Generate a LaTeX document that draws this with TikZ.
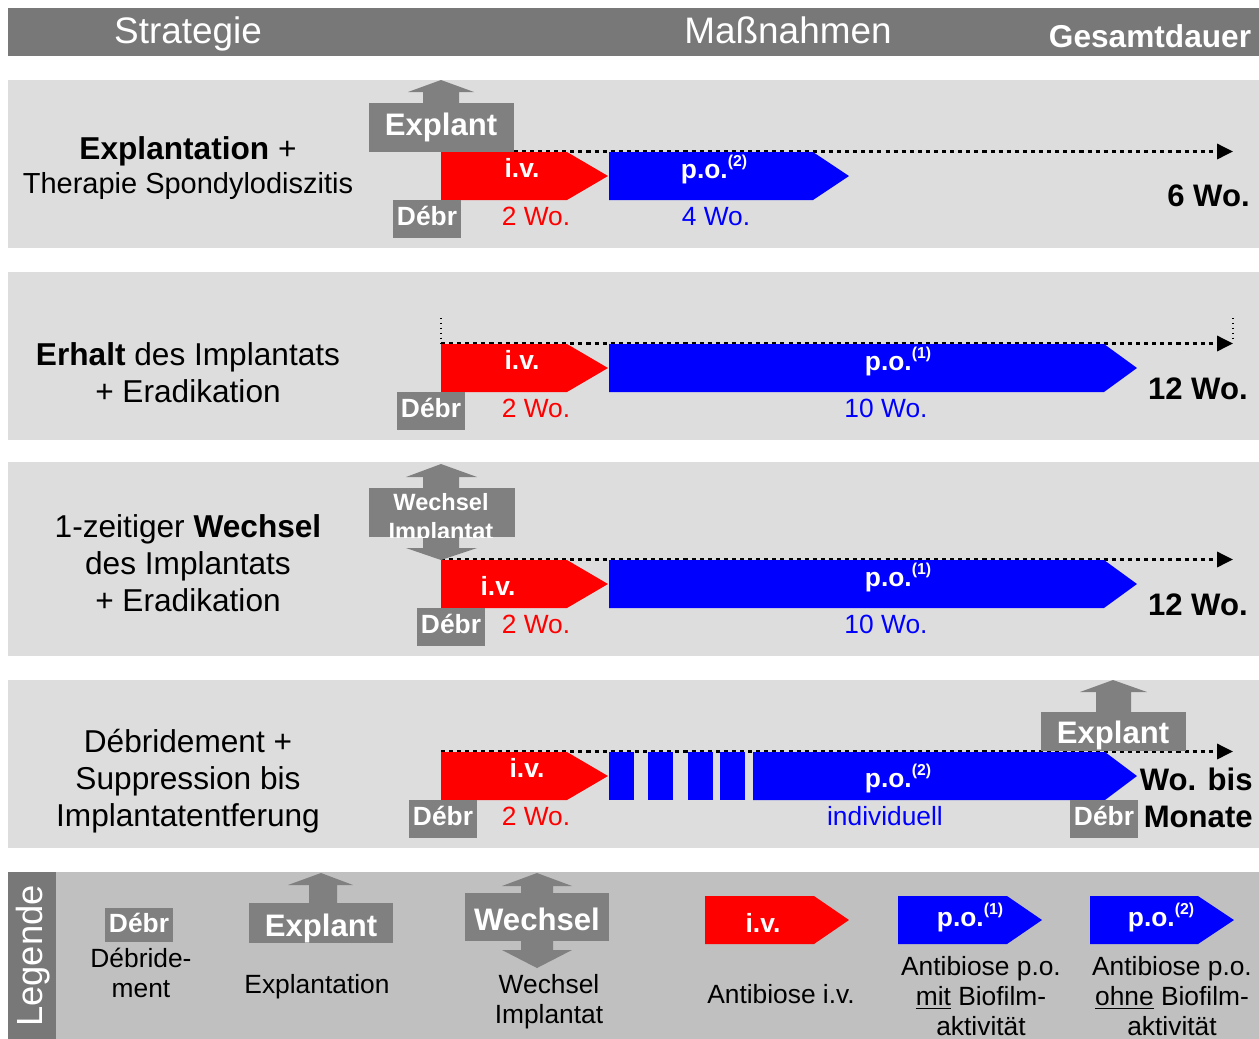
\documentclass[tikz,border=0pt]{standalone}
\usepackage{fontspec}
\setmainfont{Liberation Sans}
\usetikzlibrary{arrows.meta}

\definecolor{kopfgrau}{RGB}{120,120,120}
\definecolor{boxgrau}{RGB}{128,128,128}
\definecolor{feldgrau}{RGB}{221,221,221}
\definecolor{leggrau}{RGB}{192,192,192}
\definecolor{ivrot}{RGB}{255,0,0}
\definecolor{poblau}{RGB}{0,0,255}

\newcommand{\hoch}[1]{\raisebox{6.5pt}{\fontsize{9}{9}\selectfont(#1)}}

\tikzset{
  kopf/.style={anchor=base, inner sep=0pt, text=white, font=\fontsize{21}{25}\selectfont},
  strat/.style={align=center, inner sep=0pt, font=\fontsize{18}{21}\selectfont},
  wochen/.style={anchor=base, inner sep=0pt, font=\fontsize{15}{18}\selectfont},
  gesamt/.style={anchor=base east, inner sep=0pt, font=\bfseries\fontsize{17.7}{21}\selectfont},
  balken/.style={anchor=base, inner sep=0pt, text=white, font=\bfseries\fontsize{15}{18}\selectfont},
  gross/.style={anchor=base, inner sep=0pt, text=white, font=\bfseries\fontsize{17.7}{21}\selectfont},
  legtext/.style={align=center, inner sep=0pt, font=\fontsize{15}{17}\selectfont},
  zeitachse/.style={line width=1.8pt, dash pattern=on 2.3pt off 2.3pt, -{Triangle[length=9pt,width=8.5pt]}},
}

\begin{document}
\begin{tikzpicture}[x=0.02cm, y=-0.02cm]
  \useasboundingbox (0,0) rectangle (1259,1039);
  % Kopfzeile
  \fill[kopfgrau] (8,8) rectangle (1259,56);
  \node[kopf] (strategie) at (188,43) {Strategie};
  \node[kopf] (massnahmen) at (788,43) {Maßnahmen};
  \node[kopf, font=\bfseries\fontsize{18}{21}\selectfont] (gesamtdauer) at (1150,47) {Gesamtdauer};

  % Felder
  \foreach \a/\b in {80/248, 272/440, 462/656, 680/848}
    \fill[feldgrau] (8,\a) rectangle (1259,\b);
  \fill[leggrau] (8,872) rectangle (1259,1039);
  \fill[kopfgrau] (8,872) rectangle (56,1039);

  % Zeitachsen und i.v.-Pfeile
  \foreach \T/\n in {152/1, 344/2, 560/3, 752/4} {
    \coordinate (start\n) at (441,\T-0.5);
    \coordinate (ende\n) at (1233,\T-0.5);
    \draw[zeitachse] (start\n) -- (ende\n);
    \fill[ivrot] (441,\T) -- (567,\T) -- (608,\T+24) -- (567,\T+48) -- (441,\T+48) -- cycle;
    \node[wochen, text=ivrot] (zwei\n) at (536,\T+73) {2 Wo.};
  }
  % p.o.-Pfeile
  \fill[poblau] (609,152) -- (813,152) -- (849,176) -- (813,200) -- (609,200) -- cycle;
  \fill[poblau] (609,344) -- (1104,344) -- (1137,368) -- (1104,392) -- (609,392) -- cycle;
  \fill[poblau] (609,560) -- (1104,560) -- (1137,584) -- (1104,608) -- (609,608) -- cycle;
  \foreach \a/\b in {609/634, 648/673, 688/713, 720/745}
    \fill[poblau] (\a,752) rectangle (\b,800);
  \fill[poblau] (753,752) -- (1105,752) -- (1137,776) -- (1105,800) -- (753,800) -- cycle;

  % Zeile 1
  \node[strat] (lab1) at (188,168) {\textbf{Explantation} +\\[-1.5pt]{\fontsize{16.5}{19}\selectfont Therapie Spondylodiszitis}};
  \fill[boxgrau] (369,103) rectangle (514,152);
  \fill[boxgrau] (423,104) -- (423,92) -- (408,92) -- (441,80) -- (474,92) -- (459,92) -- (459,104) -- cycle;
  \node[gross] (explant1) at (441,135) {Explant};
  \fill[boxgrau] (393,200) rectangle (461,238);
  \node[balken] (debr1) at (427,225) {Débr};
  \node[balken] (iv1) at (522,177) {i.v.};
  \node[balken] (po1) at (714,178) {p.o.\hoch{2}};
  \node[wochen, text=poblau] (vier1) at (716,225) {4 Wo.};
  \node[gesamt] (dauer1) at (1250,206) {6 Wo.};

  % Zeile 2
  \node[strat] (lab2) at (188,373) {\textbf{Erhalt} des Implantats\\+ Eradikation};
  \coordinate (mark2a) at (441,318);
  \coordinate (mark2b) at (1233,318);
  \draw[dotted, line width=0.8pt] (mark2a) -- (start2);
  \draw[dotted, line width=0.8pt] (mark2b) -- (1233,340);
  \fill[boxgrau] (397,392) rectangle (465,430);
  \node[balken] (debr2) at (431,417) {Débr};
  \node[balken] (iv2) at (522,369) {i.v.};
  \node[balken] (po2) at (898,370) {p.o.\hoch{1}};
  \node[wochen, text=poblau] (zehn2) at (886,417) {10 Wo.};
  \node[gesamt] (dauer2) at (1248,399) {12 Wo.};

  % Zeile 3
  \node[strat] (lab3) at (188,563) {1-zeitiger \textbf{Wechsel}\\des Implantats\\+ Eradikation};
  \fill[boxgrau] (369,488) rectangle (515,537);
  \fill[boxgrau] (423,489) -- (423,477) -- (406,477) -- (441,464) -- (477,477) -- (459,477) -- (459,489) -- cycle;
  \fill[boxgrau] (423,536) -- (423,548) -- (406,548) -- (441,560) -- (477,548) -- (459,548) -- (459,536) -- cycle;
  \begin{scope}
    \clip (369,488) rectangle (515,537);
    \node[balken, font=\bfseries\fontsize{13.4}{15}\selectfont] (wechsel3) at (441,510) {Wechsel};
    \node[balken, font=\bfseries\fontsize{13.4}{15}\selectfont] (implantat3) at (441,539) {Implantat};
  \end{scope}
  \fill[boxgrau] (417,608) rectangle (485,646);
  \node[balken] (debr3) at (451,633) {Débr};
  \node[balken] (iv3) at (498,595) {i.v.};
  \node[balken] (po3) at (898,586) {p.o.\hoch{1}};
  \node[wochen, text=poblau] (zehn3) at (886,633) {10 Wo.};
  \node[gesamt] (dauer3) at (1248,615) {12 Wo.};

  % Zeile 4
  \node[strat] (lab4) at (188,781) {Débridement +\\Suppression bis\\Implantatentferung};
  \fill[boxgrau] (409,800) rectangle (477,838);
  \node[balken] (debr4) at (443,825) {Débr};
  \node[balken] (iv4) at (527,777) {i.v.};
  \node[balken] (po4) at (898,787) {p.o.\hoch{2}};
  \node[wochen, text=poblau] (indiv4) at (885,825) {individuell};
  \fill[boxgrau] (1041,712) rectangle (1186,751);
  \fill[boxgrau] (1096,713) -- (1096,692) -- (1080,692) -- (1113,680) -- (1147,692) -- (1131,692) -- (1131,713) -- cycle;
  \node[gross] (explant4) at (1113,743) {Explant};
  \fill[boxgrau] (1070,800) rectangle (1138,838);
  \node[balken] (debr4b) at (1104,825) {Débr};
  \node[gesamt] (dauer4a) at (1253,790) {Wo. bis};
  \node[gesamt] (dauer4b) at (1253,827) {Monate};

  % Legende
  \node[kopf, rotate=90, anchor=center, font=\fontsize{20.7}{24}\selectfont] (legende) at (33,956) {Legende};
  \fill[boxgrau] (105,908) rectangle (173,942);
  \node[balken] (legdebr) at (139,932) {Débr};
  \node[legtext] (legdebrtext) at (141,973) {Débride-\\ment};
  \fill[boxgrau] (249,903) rectangle (393,943);
  \fill[boxgrau] (309,904) -- (309,885) -- (288,885) -- (321,873) -- (353,885) -- (337,885) -- (337,904) -- cycle;
  \node[gross] (legexplant) at (321,936) {Explant};
  \node[legtext] (legexpltext) at (317,987) {Explantation};
  \fill[boxgrau] (465,893) rectangle (609,941);
  \fill[boxgrau] (521,894) -- (521,886) -- (502,886) -- (537,873) -- (572,886) -- (553,886) -- (553,894) -- cycle;
  \fill[boxgrau] (521,940) -- (521,950) -- (502,950) -- (537,968) -- (572,950) -- (553,950) -- (553,940) -- cycle;
  \node[gross] (legwechsel) at (537,930) {Wechsel};
  \node[legtext] (legwechseltext) at (549,1002) {Wechsel\\Implantat};
  \fill[ivrot] (705,896) -- (814,896) -- (849,920) -- (814,944) -- (705,944) -- cycle;
  \node[balken] (legiv) at (763,932) {i.v.};
  \node[legtext] (legivtext) at (781,994) {Antibiose i.v.};
  \fill[poblau] (898,896) -- (1007,896) -- (1042,920) -- (1007,944) -- (898,944) -- cycle;
  \node[balken] (legpoeins) at (970,926) {p.o.\hoch{1}};
  \node[legtext] (legpoeinstext) at (981,996) {Antibiose p.o.\\\underline{mit} Biofilm-\\aktivität};
  \fill[poblau] (1090,896) -- (1198,896) -- (1234,920) -- (1198,944) -- (1090,944) -- cycle;
  \node[balken] (legpozwei) at (1161,926) {p.o.\hoch{2}};
  \node[legtext] (legpozweitext) at (1172,996) {Antibiose p.o.\\\underline{ohne} Biofilm-\\aktivität};
\end{tikzpicture}
\end{document}
